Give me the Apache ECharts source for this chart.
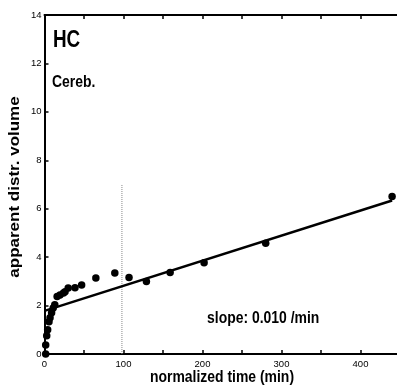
<!DOCTYPE html>
<html><head><meta charset="utf-8">
<script src="https://cdn.jsdelivr.net/npm/echarts@6/dist/echarts.min.js"></script>
<style>html,body{margin:0;padding:0;background:#fff;overflow:hidden}#c{width:397px;height:389px}</style>
</head><body><div id="c"></div>
<script>
// Data
const times  = [1.5, 1.5, 2.8, 4, 5.7, 7, 9, 11, 13, 16, 19.6, 24, 26, 30, 38.6, 47, 65, 89, 107, 129, 159, 202, 280, 440];
const values = [0, 0.37, 0.75, 1.0, 1.33, 1.5, 1.7, 1.9, 2.03, 2.37, 2.44, 2.52, 2.57, 2.73, 2.74, 2.85, 3.14, 3.35, 3.16, 2.99, 3.37, 3.77, 4.57, 6.5];
const fitX = [0, 440];
const fitY = [1.78, 6.34];
const markerX = 98;
const markerY = [0, 7];
const xTickLabels = [0, 100, 200, 300, 400];
const yTickLabels = [0, 2, 4, 6, 8, 10, 12, 14];

const FONT = "'Liberation Sans', Arial, sans-serif";
const SQ = 0.82; // horizontal squish of the reference

const chart = echarts.init(document.getElementById('c'), null, {renderer: 'canvas'});
const axisLine = {show: true, lineStyle: {color: '#000', width: 2}};
const axisTick = {show: true, inside: true, length: 4, lineStyle: {color: '#000', width: 1.5}};
chart.setOption({
  animation: false,
  backgroundColor: '#fff',
  grid: {left: 44.5, width: 355.5, top: 15, height: 339, containLabel: false, outerBoundsMode: 'none'},
  xAxis: [{
    type: 'value', min: 0, max: 450, interval: 50, position: 'bottom',
    axisLine, axisTick, splitLine: {show: false},
    axisLabel: {margin: 5, color: '#000', fontSize: 9.5, fontFamily: FONT,
      formatter: v => xTickLabels.includes(v) ? String(v) : ''}
  }, {
    type: 'value', min: 0, max: 450, interval: 50, position: 'top',
    axisLine, axisTick, splitLine: {show: false}, axisLabel: {show: false}
  }],
  yAxis: [{
    type: 'value', min: 0, max: 14, interval: 2,
    axisLine, axisTick, splitLine: {show: false},
    axisLabel: {margin: 3, color: '#000', fontSize: 9.5, fontFamily: FONT,
      formatter: v => yTickLabels.includes(v) ? String(v) : ''}
  }],
  series: [{
    type: 'scatter', xAxisIndex: 0, symbolSize: 7.5,
    itemStyle: {color: '#000', opacity: 1},
    data: times.map((t, i) => [t, values[i]]), z: 3
  }, {
    type: 'line', xAxisIndex: 0, symbol: 'none',
    lineStyle: {color: '#000', width: 2.5},
    data: fitX.map((x, i) => [x, fitY[i]]), z: 2
  }, {
    type: 'line', xAxisIndex: 0, symbol: 'none',
    lineStyle: {color: '#888', width: 1, type: [1, 1]},
    data: markerY.map(y => [markerX, y]), z: 1
  }],
  graphic: [
    {type: 'text', x: 53, y: 40.5, scaleX: SQ, style: {text: 'HC', font: 'bold 23px ' + FONT, fill: '#000', align: 'left', verticalAlign: 'middle'}},
    {type: 'text', x: 52, y: 82.5, scaleX: SQ, style: {text: 'Cereb.', font: 'bold 17px ' + FONT, fill: '#000', align: 'left', verticalAlign: 'middle'}},
    {type: 'text', x: 207, y: 318, scaleX: SQ, style: {text: 'slope: 0.010 /min', font: 'bold 17px ' + FONT, fill: '#000', align: 'left', verticalAlign: 'middle'}},
    {type: 'text', x: 222, y: 377, scaleX: SQ, style: {text: 'normalized time (min)', font: 'bold 17px ' + FONT, fill: '#000', align: 'center', verticalAlign: 'middle'}},
    {type: 'text', x: 15, y: 187, rotation: Math.PI / 2, scaleY: SQ, style: {text: 'apparent distr. volume', font: 'bold 17px ' + FONT, fill: '#000', align: 'center', verticalAlign: 'middle'}}
  ]
});
</script></body></html>
